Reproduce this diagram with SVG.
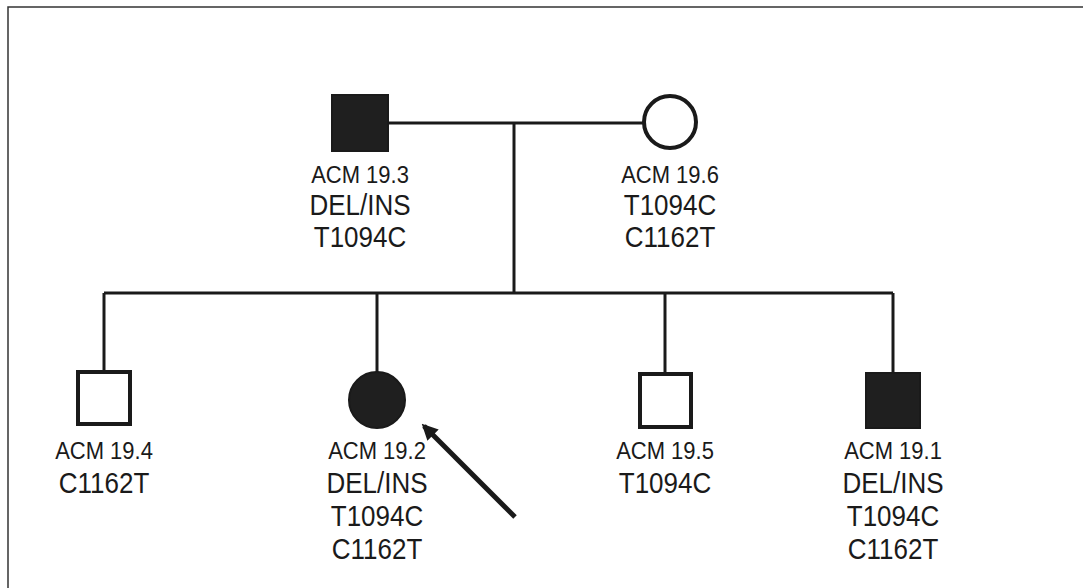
<svg xmlns="http://www.w3.org/2000/svg" width="1083" height="588" viewBox="0 0 1083 588">
<defs>
<style>
.ln{stroke:#1a1a1a;stroke-width:3;fill:none}
.open{fill:#fff;stroke:#1a1a1a;stroke-width:4}
.aff{fill:#1f1f1f;stroke:#1a1a1a;stroke-width:2}
.id{font-family:"Liberation Sans",Arial,sans-serif;font-size:22px;fill:#1a1a1a;text-anchor:middle}
.gt{font-family:"Liberation Sans",Arial,sans-serif;font-size:26px;fill:#1a1a1a;text-anchor:middle}
</style>
<marker id="ah" viewBox="0 0 10 10" refX="8" refY="5" markerWidth="3.2" markerHeight="3.2" orient="auto" markerUnits="strokeWidth">
<path d="M0,0 L10,5 L0,10 z" fill="#1a1a1a"/>
</marker>
</defs>
<rect x="0" y="0" width="1083" height="588" fill="#fff"/>
<rect x="8" y="7" width="1100" height="600" fill="none" stroke="#333" stroke-width="1.5"/>
<g id="connectors">
<line class="ln" x1="388" y1="123" x2="643" y2="123"/>
<line class="ln" x1="514" y1="123" x2="514" y2="293"/>
<line class="ln" x1="104" y1="293" x2="893" y2="293"/>
<line class="ln" x1="104" y1="293" x2="104" y2="371"/>
<line class="ln" x1="377" y1="293" x2="377" y2="372"/>
<line class="ln" x1="665" y1="293" x2="665" y2="372"/>
<line class="ln" x1="893" y1="293" x2="893" y2="372"/>
<line x1="515" y1="517" x2="424" y2="426" stroke="#1a1a1a" stroke-width="5" marker-end="url(#ah)"/>
</g>
<g id="acm193">
<rect class="aff" x="332" y="95" width="56" height="56"/>
<text class="id" transform="translate(360,183) scale(1,1.1)">ACM 19.3</text>
<text class="gt" transform="translate(360,215) scale(1,1.15)">DEL/INS</text>
<text class="gt" transform="translate(360,247) scale(1,1.15)">T1094C</text>
</g>
<g id="acm196">
<circle class="open" cx="670" cy="122" r="26"/>
<text class="id" transform="translate(670,183) scale(1,1.1)">ACM 19.6</text>
<text class="gt" transform="translate(670,215) scale(1,1.15)">T1094C</text>
<text class="gt" transform="translate(670,247) scale(1,1.15)">C1162T</text>
</g>
<g id="acm194">
<rect class="open" x="78" y="372" width="52" height="52"/>
<text class="id" transform="translate(104,459) scale(1,1.1)">ACM 19.4</text>
<text class="gt" transform="translate(104,493) scale(1,1.15)">C1162T</text>
</g>
<g id="acm192">
<circle class="aff" cx="377" cy="400" r="28"/>
<text class="id" transform="translate(377,459) scale(1,1.1)">ACM 19.2</text>
<text class="gt" transform="translate(377,493) scale(1,1.15)">DEL/INS</text>
<text class="gt" transform="translate(377,526) scale(1,1.15)">T1094C</text>
<text class="gt" transform="translate(377,559) scale(1,1.15)">C1162T</text>
</g>
<g id="acm195">
<rect class="open" x="640" y="374" width="51" height="53"/>
<text class="id" transform="translate(665,459) scale(1,1.1)">ACM 19.5</text>
<text class="gt" transform="translate(665,493) scale(1,1.15)">T1094C</text>
</g>
<g id="acm191">
<rect class="aff" x="866" y="373" width="54" height="55"/>
<text class="id" transform="translate(893,459) scale(1,1.1)">ACM 19.1</text>
<text class="gt" transform="translate(893,493) scale(1,1.15)">DEL/INS</text>
<text class="gt" transform="translate(893,526) scale(1,1.15)">T1094C</text>
<text class="gt" transform="translate(893,559) scale(1,1.15)">C1162T</text>
</g>
</svg>
